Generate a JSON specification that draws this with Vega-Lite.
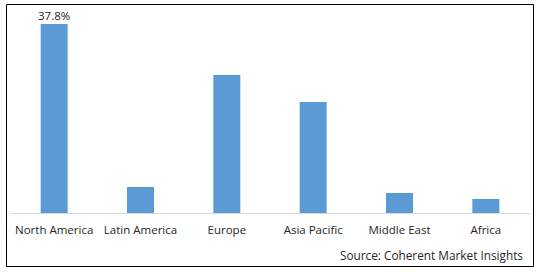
{
  "$schema": "https://vega.github.io/schema/vega-lite/v6.json",
  "autosize": {"type": "none"},
  "padding": {"left": 6, "top": 4, "right": 5, "bottom": 6},
  "width": 527,
  "height": 262,
  "background": "white",
  "config": {
    "view": {"stroke": "#000000", "strokeWidth": 1},
    "font": "Open Sans"
  },
  "title": {
    "text": "Source: Coherent Market Insights",
    "orient": "bottom",
    "anchor": "end",
    "offset": -15,
    "dx": -10,
    "fontSize": 11.8,
    "fontWeight": "normal",
    "color": "#262626",
    "font": "Open Sans"
  },
  "data": {
    "values": [
      {"region": "North America", "share": 0.378},
      {"region": "Latin America", "share": 0.052},
      {"region": "Europe", "share": 0.276},
      {"region": "Asia Pacific", "share": 0.222},
      {"region": "Middle East", "share": 0.040},
      {"region": "Africa", "share": 0.028}
    ]
  },
  "encoding": {
    "x": {
      "field": "region",
      "type": "nominal",
      "sort": null,
      "scale": {"range": [5, 523], "paddingInner": 0, "paddingOuter": 0},
      "axis": {
        "title": null,
        "labelAngle": 0,
        "offset": -53,
        "ticks": false,
        "domainColor": "#d9d9d9",
        "domainWidth": 1,
        "labelFontSize": 11.5,
        "labelColor": "#262626",
        "labelPadding": 11,
        "labelFont": "Open Sans"
      }
    },
    "y": {
      "field": "share",
      "type": "quantitative",
      "scale": {"domain": [-0.106, 0.418], "nice": false, "zero": false},
      "axis": null
    }
  },
  "layer": [
    {
      "mark": {"type": "bar", "width": 27, "color": "#5B9BD5"},
      "encoding": {"y2": {"datum": 0}}
    },
    {
      "transform": [{"filter": "datum.region === 'North America'"}],
      "mark": {"type": "text", "baseline": "bottom", "dy": -2, "fontSize": 11.5, "color": "#262626", "font": "Open Sans"},
      "encoding": {"text": {"field": "share", "type": "quantitative", "format": ".1%"}}
    }
  ]
}
